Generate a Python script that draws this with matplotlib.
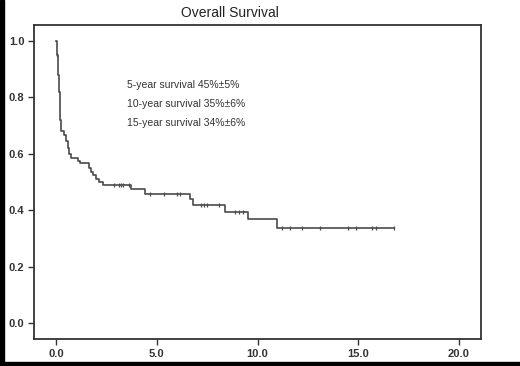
import numpy as np
import matplotlib.pyplot as plt
from matplotlib.patches import Rectangle

plt.rcParams['font.family'] = ['Liberation Sans', 'DejaVu Sans']

# Kaplan-Meier step data (years, survival)
times = [0.0, 0.03, 0.05, 0.08, 0.10, 0.12, 0.15, 0.17, 0.19, 0.21, 0.24,
         0.40, 0.50, 0.60, 0.65, 0.72, 1.10, 1.20, 1.65, 1.75, 1.85, 2.00,
         2.15, 2.35, 3.70, 4.42, 6.65, 6.80, 8.40, 9.55, 10.95, 16.8]
surv = [1.0, 0.98, 0.95, 0.92, 0.88, 0.85, 0.82, 0.78, 0.75, 0.72, 0.68,
        0.665, 0.645, 0.62, 0.60, 0.585, 0.575, 0.568, 0.55, 0.535, 0.525, 0.51,
        0.50, 0.488, 0.474, 0.457, 0.44, 0.42, 0.395, 0.368, 0.338, 0.338]
censored = [0.05, 2.85, 3.1, 3.2, 3.3, 3.6, 4.67, 5.36, 6.0, 6.15, 7.2, 7.35,
            7.5, 8.1, 8.9, 9.1, 9.3, 11.2, 11.6, 12.2, 13.1, 14.5, 14.9,
            15.7, 15.9, 16.8]
notes = ["5-year survival 45%\u00b15%",
         "10-year survival 35%\u00b16%",
         "15-year survival 34%\u00b16%"]
xticks = [0, 5, 10, 15, 20]
yticks = [0.0, 0.2, 0.4, 0.6, 0.8, 1.0]

fig = plt.figure(figsize=(5.2, 3.66), dpi=100)
ax = fig.add_axes([0.0654, 0.0738, 0.8596, 0.858])

line_c = '#4a4a4a'
ax.step(times, surv, where='post', color=line_c, lw=1.2)
idx = np.searchsorted(times, censored, side='right') - 1
cs = np.array(surv)[idx]
ax.plot(censored, cs, ls='none', marker='|', ms=3, mew=0.9, color=line_c)

ax.set_xlim(-1.1, 21.1)
ax.set_ylim(-0.057, 1.057)
ax.set_xticks(xticks)
ax.set_xticklabels([f"{v:.1f}" for v in xticks])
ax.set_yticks(yticks)
ax.set_yticklabels([f"{v:.1f}" for v in yticks])
ax.tick_params(direction='out', length=4, width=1, colors='#333333',
               labelsize=8, pad=3, top=False, right=False)
for lab in ax.get_xticklabels() + ax.get_yticklabels():
    lab.set_fontweight('bold')
for sp in ax.spines.values():
    sp.set_color('#333333')
    sp.set_linewidth(1.3)

for i, s in enumerate(notes):
    ax.text(3.5, 0.844 - i * 0.067, s, fontsize=7.5, color='#333333', va='center')

fig.text(0.442, 0.964, "Overall Survival", ha='center', va='center',
         fontsize=10, color='#222222')

# black frame strips on left and bottom edges
fig.patches.append(Rectangle((0, 0), 4 / 520, 1, transform=fig.transFigure,
                             color='black', zorder=10))
fig.patches.append(Rectangle((0, 0), 1, 4 / 366, transform=fig.transFigure,
                             color='black', zorder=10))

fig.savefig('out.png', dpi=100)
